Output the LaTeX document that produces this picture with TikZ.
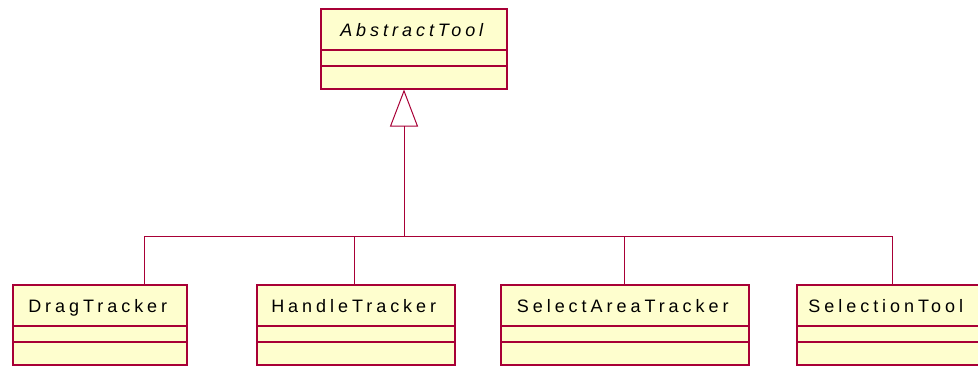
\documentclass[tikz,border=0pt]{standalone}
\usepackage{fontspec}
\setmainfont{Liberation Sans}[LetterSpace=22]
\usetikzlibrary{arrows.meta}
\definecolor{umlfill}{HTML}{FEFECE}
\definecolor{umlline}{HTML}{A80036}
\tikzset{
  clsbox/.style={draw=umlline, fill=umlfill, line width=1.5pt, inner sep=0pt},
  clsname/.style={font=\fontsize{18}{20}\selectfont, text=black, inner sep=0pt, anchor=base},
  clsline/.style={draw=umlline, line width=1.2pt},
  gen/.style={draw=umlline, line width=1pt},
}
% name, left, right, top, label
\newcommand{\umlclass}[5]{%
  \node[clsbox, minimum width={(#3-#2)*1pt}, minimum height=80pt,
        anchor=north west] (#1) at (#2,#4) {};
  \node[clsname] (#1name) at ([xshift=-2pt, yshift=-28pt]#1.north) {#5};
  \draw[clsline] ([yshift=-42pt]#1.north west) -- ([yshift=-42pt]#1.north east);
  \draw[clsline] ([yshift=-58pt]#1.north west) -- ([yshift=-58pt]#1.north east);
}
\begin{document}
\begin{tikzpicture}[x=1pt,y=-1pt]
  \useasboundingbox (0,0) rectangle (978,367);
  \umlclass{abstool}{320}{506}{8}{\itshape AbstractTool}
  \umlclass{drag}{12}{186}{284}{DragTracker}
  \umlclass{handle}{256}{454}{284}{HandleTracker}
  \umlclass{area}{500}{748}{284}{SelectAreaTracker}
  \umlclass{seltool}{796}{978}{284}{SelectionTool}
  % generalisation
  \coordinate (junc) at (404,236);
  \draw[gen, -{Triangle[open, length=37pt, width=28pt, line width=1pt]}]
    (junc) -- (abstool.south -| junc);
  \foreach \n/\x in {drag/144, handle/354, area/624, seltool/892}
    {\draw[gen] (\n.north -| \x,0) |- (junc);}
\end{tikzpicture}
\end{document}
